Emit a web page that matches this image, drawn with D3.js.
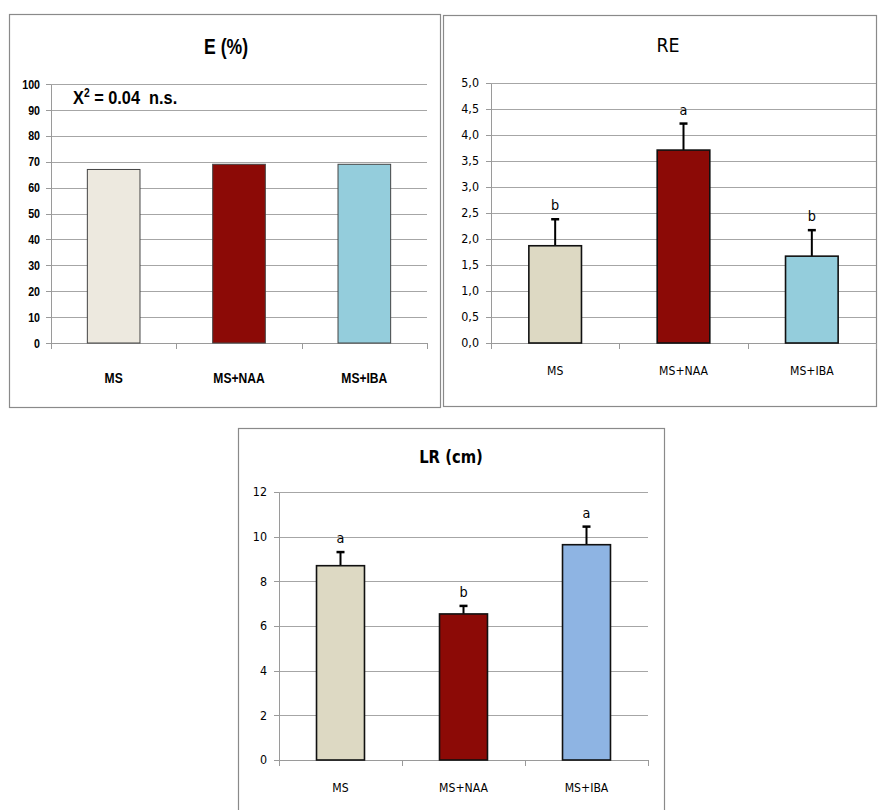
<!doctype html>
<html lang="en">
<head>
<meta charset="utf-8">
<title>E, RE, LR</title>
<style>
html, body { margin: 0; padding: 0; background: #fff; }
svg { display: block; }
.frame { fill: #fff; stroke: #8a8a8a; stroke-width: 1.2px; }
.grid line { stroke: #a6a6a6; stroke-width: 1px; }
.axis path, .axis line { stroke: #9a9a9a; stroke-width: 1px; fill: none; shape-rendering: crispEdges; }
</style>
</head>
<body>
<svg id="chart" width="878" height="810"></svg>
<script src="https://cdnjs.cloudflare.com/ajax/libs/d3/7.8.5/d3.min.js"></script>
<script>
// ---- data ----
var categories = ['MS', 'MS+NAA', 'MS+IBA'];

var eValues = [67, 69, 69];
var eTicks = [0, 10, 20, 30, 40, 50, 60, 70, 80, 90, 100];
var eColors = ['#ede9df', '#8c0a06', '#94cddc'];

var reValues = [1.87, 3.71, 1.67];
var reErrors = [0.51, 0.51, 0.50];
var reLetters = ['b', 'a', 'b'];
var reTicks = [0, 0.5, 1, 1.5, 2, 2.5, 3, 3.5, 4, 4.5, 5];
var reColors = ['#ddd9c3', '#8c0a06', '#94cddc'];

var lrValues = [8.70, 6.54, 9.64];
var lrErrors = [0.61, 0.36, 0.81];
var lrLetters = ['a', 'b', 'a'];
var lrTicks = [0, 2, 4, 6, 8, 10, 12];
var lrColors = ['#ddd9c3', '#8c0a06', '#8eb4e3'];

var svg = d3.select('#chart');

var comma = function (v) { return d3.format('.1f')(v).replace('.', ','); };

// text squeezed horizontally (no narrow fonts installed)
var label = function (parent, x, y, str, f) {
	return parent.append('text')
		.attr('transform', 'translate(' + x + ',' + y + ') scale(' + (f.sx || 1) + ',1)')
		.attr('text-anchor', f.anchor || 'middle')
		.style('font-family', f.family)
		.style('font-weight', f.weight || 'normal')
		.style('font-size', f.size + 'px')
		.attr('fill', '#000')
		.text(str);
};

var drawPanel = function (o) {
	var g = svg.append('g');
	g.append('rect').attr('class', 'frame')
		.attr('x', o.frame[0]).attr('y', o.frame[1])
		.attr('width', o.frame[2]).attr('height', o.frame[3]);

	label(g, o.titleX, o.titleY, o.title, o.titleF);

	var x = d3.scaleBand().domain(categories).range([o.left, o.right]).paddingInner(0).paddingOuter(0);
	var y = d3.scaleLinear().domain([0, o.ticks[o.ticks.length - 1]]).range([o.bottom, o.top]);

	// gridlines
	g.append('g').attr('class', 'grid')
		.selectAll('line').data(o.ticks.slice(1)).enter()
		.append('line')
		.attr('x1', o.left).attr('x2', o.right)
		.attr('y1', function (d) { return Math.round(y(d)) + 0.5; })
		.attr('y2', function (d) { return Math.round(y(d)) + 0.5; });

	// y axis
	var sx = o.tickF.sx || 1;
	var ya = g.append('g').attr('class', 'axis')
		.attr('transform', 'translate(' + o.left + ',0)')
		.call(d3.axisLeft(y).tickValues(o.ticks).tickFormat(o.fmt).tickSize(5).tickSizeOuter(0));
	ya.selectAll('text')
		.attr('x', -o.tickGap / sx)
		.attr('transform', 'scale(' + sx + ',1)')
		.style('font-family', o.tickF.family)
		.style('font-weight', o.tickF.weight || 'normal')
		.style('font-size', o.tickF.size + 'px')
		.attr('fill', '#000');

	// x axis line + boundary ticks
	var xa = g.append('g').attr('class', 'axis');
	xa.append('line')
		.attr('x1', o.left).attr('x2', o.right)
		.attr('y1', o.bottom + 0.5).attr('y2', o.bottom + 0.5);
	var bounds = categories.map(function (c) { return x(c); }).concat([o.right]);
	xa.selectAll('line.tk').data(bounds).enter()
		.append('line').attr('class', 'tk')
		.attr('x1', function (d) { return Math.round(d) + 0.5; })
		.attr('x2', function (d) { return Math.round(d) + 0.5; })
		.attr('y1', o.bottom).attr('y2', o.bottom + 6);

	var cg = g.append('g');
	categories.forEach(function (c) {
		label(cg, x(c) + x.bandwidth() / 2, o.catY, c, o.catF);
	});

	var bw = x.bandwidth() * o.barFrac;
	var bx = function (i) { return x(categories[i]) + (x.bandwidth() - bw) / 2; };

	// error bars (behind bars) and letters
	if (o.errors) {
		var eg = g.append('g');
		o.values.forEach(function (v, i) {
			var cx = bx(i) + bw / 2;
			var top = y(v + o.errors[i]);
			eg.append('line')
				.attr('x1', cx).attr('x2', cx)
				.attr('y1', y(v)).attr('y2', top)
				.attr('stroke', '#000').attr('stroke-width', 2);
			eg.append('line')
				.attr('x1', cx - 4).attr('x2', cx + 4)
				.attr('y1', top).attr('y2', top)
				.attr('stroke', '#000').attr('stroke-width', 2.5);
			label(eg, cx, top - 9, o.letters[i], { family: o.catF.family, size: 14, sx: 0.92 });
		});
	}

	g.append('g').selectAll('rect').data(o.values).enter()
		.append('rect')
		.attr('x', function (d, i) { return bx(i); })
		.attr('y', function (d) { return y(d); })
		.attr('width', bw)
		.attr('height', function (d) { return o.bottom - y(d); })
		.attr('fill', function (d, i) { return o.colors[i]; })
		.attr('stroke', o.barStroke)
		.attr('stroke-width', o.barStrokeW);

	return g;
};

var arial = '"Liberation Sans", Arial, sans-serif';
var tahoma = '"DejaVu Sans", Verdana, sans-serif';

var p1 = drawPanel({
	frame: [9.5, 14.5, 431, 393],
	title: 'E (%)', titleX: 226, titleY: 54,
	titleF: { family: arial, weight: 'bold', size: 22, sx: 0.8 },
	left: 51, right: 427, top: 84, bottom: 343,
	ticks: eTicks, fmt: d3.format('d'), tickGap: 11,
	tickF: { family: arial, weight: 'bold', size: 13, sx: 0.82 },
	catY: 383, catF: { family: arial, weight: 'bold', size: 15.5, sx: 0.78 },
	values: eValues, colors: eColors, barFrac: 0.42, barStroke: '#444', barStrokeW: 1
});
var chi = label(p1, 73, 104, '', { family: arial, weight: 'bold', size: 19, sx: 0.86, anchor: 'start' });
chi.append('tspan').text('X');
chi.append('tspan').attr('dy', -7).attr('font-size', 12).text('2');
chi.append('tspan').attr('dy', 7).text(' = 0.04 \u00a0n.s.');

drawPanel({
	frame: [443.5, 15.5, 433, 391],
	title: 'RE', titleX: 668, titleY: 52,
	titleF: { family: tahoma, size: 19, sx: 0.92 },
	left: 491, right: 876, top: 83, bottom: 343,
	ticks: reTicks, fmt: comma, tickGap: 12,
	tickF: { family: tahoma, size: 12, sx: 0.93 },
	catY: 375, catF: { family: tahoma, size: 11.5, sx: 0.95 },
	values: reValues, errors: reErrors, letters: reLetters, colors: reColors,
	barFrac: 0.41, barStroke: '#111', barStrokeW: 1.6
});

drawPanel({
	frame: [238.5, 428.5, 426, 400],
	title: 'LR (cm)', titleX: 451, titleY: 463,
	titleF: { family: tahoma, weight: 'bold', size: 17, sx: 0.87 },
	left: 279, right: 648, top: 492, bottom: 760,
	ticks: lrTicks, fmt: d3.format('d'), tickGap: 12,
	tickF: { family: tahoma, size: 12, sx: 0.93 },
	catY: 792, catF: { family: tahoma, size: 11.5, sx: 0.95 },
	values: lrValues, errors: lrErrors, letters: lrLetters, colors: lrColors,
	barFrac: 0.39, barStroke: '#111', barStrokeW: 1.6
});
</script>
</body>
</html>
